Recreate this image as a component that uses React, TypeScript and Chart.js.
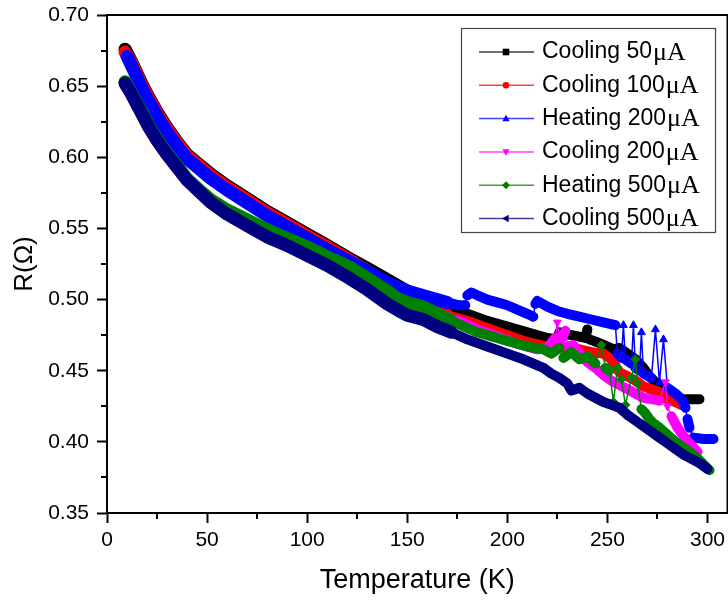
import React, { useEffect, useRef } from 'react';
import { Chart, registerables } from 'chart.js';

Chart.register(...registerables);

// ---- labels / styles ----
const seriesNames = ['Cooling 50', 'Cooling 100', 'Heating 200', 'Cooling 200', 'Heating 500', 'Cooling 500'];
const unitLabel = 'μA';
const seriesColors = ['#000000', '#ff0000', '#0000ff', '#ff00ff', '#008000', '#000080'];
const seriesShapes = ['rect', 'circle', 'triangle', 'triangle', 'rectRot', 'triangle'];
const seriesRotations = [0, 0, 0, 180, 0, 270];

const xTickValues = [0, 50, 100, 150, 200, 250, 300];
const xMinorTicks = [25, 75, 125, 175, 225, 275];
const yTickValues = [0.35, 0.4, 0.45, 0.5, 0.55, 0.6, 0.65, 0.7];
const yMinorTicks = [0.375, 0.425, 0.475, 0.525, 0.575, 0.625, 0.675];

// ---- data: Cooling 50 uA ----
const tCool50 = [9, 12, 15, 18, 21, 25, 30, 35, 40, 46, 52, 60, 70, 80, 90, 100, 110, 121, 130, 140, 150, 160, 170, 180, 190, 200, 210, 220, 225, 226, 228, 232, 236, 239, 240, 241, 245, 250, 253, 256, 260, 264, 268, 271, 274, 278, 282, 286, 290, 296];
const rCool50 = [0.676, 0.668, 0.659, 0.650, 0.642, 0.632, 0.621, 0.611, 0.602, 0.595, 0.588, 0.580, 0.571, 0.562, 0.554, 0.546, 0.538, 0.529, 0.522, 0.514, 0.506, 0.500, 0.495, 0.490, 0.485, 0.481, 0.477, 0.473, 0.472, 0.477, 0.476, 0.475, 0.474, 0.473, 0.479, 0.472, 0.470, 0.467, 0.465, 0.466, 0.462, 0.458, 0.452, 0.446, 0.442, 0.438, 0.432, 0.430, 0.430, 0.430];

// ---- Cooling 100 uA ----
const tCool100 = [9, 12, 15, 18, 21, 25, 30, 35, 40, 46, 52, 60, 70, 80, 90, 100, 110, 121, 130, 140, 150, 160, 170, 180, 190, 200, 210, 220, 230, 236, 242, 248, 252, 256, 260, 264, 268, 272, 276, 280, 284, 287];
const rCool100 = [0.674, 0.667, 0.658, 0.649, 0.641, 0.631, 0.620, 0.610, 0.601, 0.594, 0.587, 0.579, 0.570, 0.561, 0.553, 0.545, 0.537, 0.528, 0.520, 0.510, 0.500, 0.494, 0.489, 0.485, 0.480, 0.475, 0.470, 0.467, 0.466, 0.465, 0.463, 0.462, 0.458, 0.449, 0.446, 0.443, 0.439, 0.437, 0.435, 0.430, 0.428, 0.426];

// ---- Heating 200 uA ----
const tHeat200 = [10, 12, 15, 18, 21, 25, 30, 35, 40, 46, 52, 60, 70, 80, 90, 100, 110, 121, 130, 140, 150, 160, 170, 176, 179, 180, 182, 185, 190, 195, 200, 205, 210, 213, 214, 215, 220, 225, 230, 236, 242, 248, 254, 255, 257, 258, 259, 262, 263, 264, 266, 267, 268, 272, 274, 276, 278, 280, 284, 287, 289, 290, 291, 293, 298, 303];
const rHeat200 = [0.671, 0.665, 0.656, 0.647, 0.639, 0.629, 0.618, 0.608, 0.599, 0.592, 0.585, 0.577, 0.568, 0.559, 0.551, 0.543, 0.535, 0.527, 0.520, 0.512, 0.506, 0.502, 0.498, 0.496, 0.496, 0.503, 0.505, 0.503, 0.500, 0.498, 0.496, 0.493, 0.490, 0.488, 0.497, 0.499, 0.495, 0.492, 0.490, 0.488, 0.486, 0.484, 0.482, 0.462, 0.459, 0.482, 0.458, 0.455, 0.482, 0.452, 0.450, 0.477, 0.448, 0.445, 0.479, 0.442, 0.472, 0.438, 0.434, 0.430, 0.424, 0.416, 0.410, 0.403, 0.402, 0.402];

// ---- Cooling 200 uA ----
const tCool200 = [9, 12, 15, 18, 21, 25, 30, 35, 40, 46, 52, 60, 70, 80, 90, 100, 110, 121, 130, 140, 150, 160, 170, 178, 185, 195, 205, 215, 220, 224, 225, 226, 229, 230, 233, 236, 240, 244, 248, 252, 256, 260, 264, 268, 272, 276, 279, 280, 282, 285, 288, 291, 295];
const rCool200 = [0.652, 0.645, 0.637, 0.629, 0.621, 0.612, 0.602, 0.593, 0.584, 0.577, 0.569, 0.561, 0.553, 0.545, 0.539, 0.532, 0.525, 0.517, 0.510, 0.502, 0.496, 0.491, 0.487, 0.484, 0.479, 0.474, 0.469, 0.465, 0.466, 0.473, 0.484, 0.470, 0.478, 0.467, 0.468, 0.462, 0.456, 0.452, 0.447, 0.443, 0.440, 0.437, 0.434, 0.431, 0.430, 0.429, 0.442, 0.425, 0.418, 0.410, 0.404, 0.399, 0.393];

// ---- Heating 500 uA ----
const tHeat500 = [9, 12, 15, 18, 21, 25, 30, 35, 40, 46, 52, 60, 70, 80, 90, 100, 110, 121, 130, 140, 146, 150, 158, 165, 172, 180, 185, 190, 200, 210, 218, 222, 226, 228, 232, 236, 240, 244, 247, 249, 251, 253, 255, 257, 259, 262, 264, 265, 267, 269, 271, 273, 276, 280, 284, 288, 292, 296, 301];
const rHeat500 = [0.653, 0.646, 0.638, 0.630, 0.622, 0.613, 0.603, 0.594, 0.585, 0.577, 0.570, 0.563, 0.556, 0.549, 0.543, 0.537, 0.530, 0.523, 0.515, 0.506, 0.500, 0.498, 0.495, 0.490, 0.485, 0.480, 0.477, 0.475, 0.471, 0.467, 0.465, 0.462, 0.466, 0.459, 0.463, 0.458, 0.460, 0.455, 0.468, 0.452, 0.450, 0.428, 0.452, 0.444, 0.426, 0.445, 0.458, 0.441, 0.423, 0.420, 0.416, 0.413, 0.410, 0.405, 0.400, 0.396, 0.392, 0.387, 0.380];

// ---- Cooling 500 uA ----
const tCool500 = [9, 12, 15, 18, 21, 25, 30, 35, 40, 46, 52, 60, 70, 80, 90, 100, 110, 121, 130, 140, 146, 150, 158, 165, 172, 180, 190, 200, 208, 213, 218, 222, 226, 230, 232, 234, 236, 240, 244, 248, 252, 256, 260, 264, 268, 272, 276, 280, 284, 288, 292, 296, 300];
const rCool500 = [0.652, 0.645, 0.637, 0.629, 0.621, 0.612, 0.602, 0.593, 0.584, 0.576, 0.568, 0.560, 0.552, 0.544, 0.538, 0.531, 0.524, 0.515, 0.507, 0.497, 0.492, 0.489, 0.486, 0.481, 0.477, 0.472, 0.467, 0.462, 0.458, 0.455, 0.452, 0.448, 0.445, 0.441, 0.436, 0.437, 0.438, 0.434, 0.431, 0.428, 0.426, 0.424, 0.419, 0.415, 0.411, 0.407, 0.403, 0.399, 0.395, 0.391, 0.388, 0.385, 0.381];

const seriesT = [tCool50, tCool100, tHeat200, tCool200, tHeat500, tCool500];
const seriesR = [rCool50, rCool100, rHeat200, rCool200, rHeat500, rCool500];

const SANS = "'Liberation Sans', Arial, sans-serif";
const SERIF = "'Liberation Serif', 'Times New Roman', serif";

const ZERO_PAD = () => ({ left: 0, right: 0, top: 0, bottom: 0 });

function drawMarker(ctx: CanvasRenderingContext2D, idx: number, x: number, y: number, s: number) {
  ctx.beginPath();
  if (idx === 0) {
    ctx.rect(x - s, y - s, 2 * s, 2 * s);
  } else if (idx === 1) {
    ctx.arc(x, y, s, 0, Math.PI * 2);
  } else if (idx === 2) {
    ctx.moveTo(x, y - s * 1.2); ctx.lineTo(x + s * 1.1, y + s * 0.8); ctx.lineTo(x - s * 1.1, y + s * 0.8);
  } else if (idx === 3) {
    ctx.moveTo(x, y + s * 1.2); ctx.lineTo(x + s * 1.1, y - s * 0.8); ctx.lineTo(x - s * 1.1, y - s * 0.8);
  } else if (idx === 4) {
    ctx.moveTo(x, y - s * 1.2); ctx.lineTo(x + s * 1.2, y); ctx.lineTo(x, y + s * 1.2); ctx.lineTo(x - s * 1.2, y);
  } else {
    ctx.moveTo(x - s * 1.2, y); ctx.lineTo(x + s * 0.8, y - s * 1.1); ctx.lineTo(x + s * 0.8, y + s * 1.1);
  }
  ctx.closePath();
  ctx.fill();
}

const framePlugin = {
  id: 'frameLegend',
  afterDraw(chart: any) {
    const { ctx, chartArea: a, scales } = chart;
    ctx.save();
    ctx.strokeStyle = '#000';
    ctx.lineWidth = 2;
    ctx.beginPath();
    ctx.moveTo(a.left, a.top);
    ctx.lineTo(a.right, a.top);
    ctx.lineTo(a.right, a.bottom);
    // minor ticks
    xMinorTicks.forEach((v) => {
      const px = Math.round(scales.x.getPixelForValue(v));
      ctx.moveTo(px, a.bottom);
      ctx.lineTo(px, a.bottom + 6);
    });
    yMinorTicks.forEach((v) => {
      const py = Math.round(scales.y.getPixelForValue(v));
      ctx.moveTo(a.left, py);
      ctx.lineTo(a.left - 6, py);
    });
    ctx.stroke();

    // legend box
    const bx = 461, by = 28, bw = 254, bh = 204;
    ctx.fillStyle = '#ffffff';
    ctx.fillRect(bx, by, bw, bh);
    ctx.strokeStyle = '#444';
    ctx.lineWidth = 1.2;
    ctx.strokeRect(bx + 0.5, by + 0.5, bw, bh);
    for (let i = 0; i < seriesNames.length; i++) {
      const y = 52 + i * 33.3;
      ctx.strokeStyle = seriesColors[i];
      ctx.globalAlpha = 0.75;
      ctx.lineWidth = 1.5;
      ctx.beginPath();
      ctx.moveTo(479, y);
      ctx.lineTo(534, y);
      ctx.stroke();
      ctx.globalAlpha = 1;
      ctx.fillStyle = seriesColors[i];
      drawMarker(ctx, i, 506, y, 3.3);
      ctx.fillStyle = '#000';
      ctx.textBaseline = 'middle';
      ctx.textAlign = 'left';
      ctx.font = `23px ${SANS}`;
      const txt = seriesNames[i];
      ctx.fillText(txt, 542, y);
      const w = ctx.measureText(txt).width;
      ctx.font = `26px ${SERIF}`;
      ctx.fillText(unitLabel, 542 + w + 1, y + 1);
    }
    ctx.restore();
  },
};

export default function App() {
  const ref = useRef<HTMLCanvasElement | null>(null);
  useEffect(() => {
    if (!ref.current) return;
    const datasets = seriesNames.map((name, i) => ({
      label: name + ' ' + unitLabel,
      data: seriesT[i].map((t, k) => ({ x: t, y: seriesR[i][k] })),
      borderColor: seriesColors[i],
      backgroundColor: seriesColors[i],
      pointBackgroundColor: seriesColors[i],
      pointBorderColor: seriesColors[i],
      pointStyle: seriesShapes[i],
      pointRotation: seriesRotations[i],
      pointRadius: 4.5,
      pointBorderWidth: 1,
      borderWidth: 10,
      borderJoinStyle: 'round',
      borderCapStyle: 'round',
      tension: 0,
      order: seriesNames.length - i,
      segment: {
        borderWidth: (c: any) => {
          const dx = Math.abs(c.p1.x - c.p0.x);
          const dy = Math.abs(c.p1.y - c.p0.y);
          const t = c.chart.scales.x.getValueForPixel(c.p0.x);
          if (t > 150 && dy > 9 && dy > 2 * dx) return 1.5;
          return t < 170 ? 13 : 10;
        },
      },
    }));

    const chart = new Chart(ref.current, {
      type: 'line',
      data: { datasets },
      plugins: [framePlugin],
      options: {
        animation: false,
        responsive: false,
        devicePixelRatio: 1,
        layout: { padding: { top: 15, right: 1, left: 0, bottom: 0 } },
        plugins: { legend: { display: false }, tooltip: { enabled: false } },
        scales: {
          x: {
            type: 'linear',
            min: 0,
            max: 310,
            afterFit: (s: any) => { s.height = 90; s.paddingLeft = 0; s.paddingRight = 0; s.getPadding = ZERO_PAD; },
            afterBuildTicks: (s: any) => { s.ticks = xTickValues.map((v) => ({ value: v })); },
            ticks: {
              color: '#000',
              font: { family: SANS, size: 21 },
              padding: 5,
              maxRotation: 0,
              callback: (v: any) => String(v),
            },
            grid: { drawOnChartArea: false, drawTicks: true, tickLength: 10, tickColor: '#000', tickWidth: 2 },
            border: { display: true, color: '#000', width: 2 },
            title: {
              display: true,
              text: 'Temperature (K)',
              color: '#000',
              font: { family: SANS, size: 27 },
              padding: { top: 0, bottom: 6 },
            },
          },
          y: {
            type: 'linear',
            min: 0.35,
            max: 0.7,
            afterFit: (s: any) => { s.width = 107; s.paddingTop = 0; s.paddingBottom = 0; s.getPadding = ZERO_PAD; },
            afterBuildTicks: (s: any) => { s.ticks = yTickValues.map((v) => ({ value: v })); },
            ticks: {
              color: '#000',
              font: { family: SANS, size: 21 },
              padding: 8,
              callback: (v: any) => Number(v).toFixed(2),
            },
            grid: { drawOnChartArea: false, drawTicks: true, tickLength: 10, tickColor: '#000', tickWidth: 2 },
            border: { display: true, color: '#000', width: 2 },
            title: {
              display: true,
              text: 'R(Ω)',
              color: '#000',
              font: { family: SANS, size: 26 },
              padding: { top: 9, bottom: 0 },
            },
          },
        },
      } as any,
    });
    return () => chart.destroy();
  }, []);

  return (
    <div style={{ position: 'absolute', left: 0, top: 0, width: 728, height: 603, overflow: 'hidden', background: '#fff' }}>
      <canvas ref={ref} width={733} height={603} style={{ display: 'block' }} />
    </div>
  );
}
